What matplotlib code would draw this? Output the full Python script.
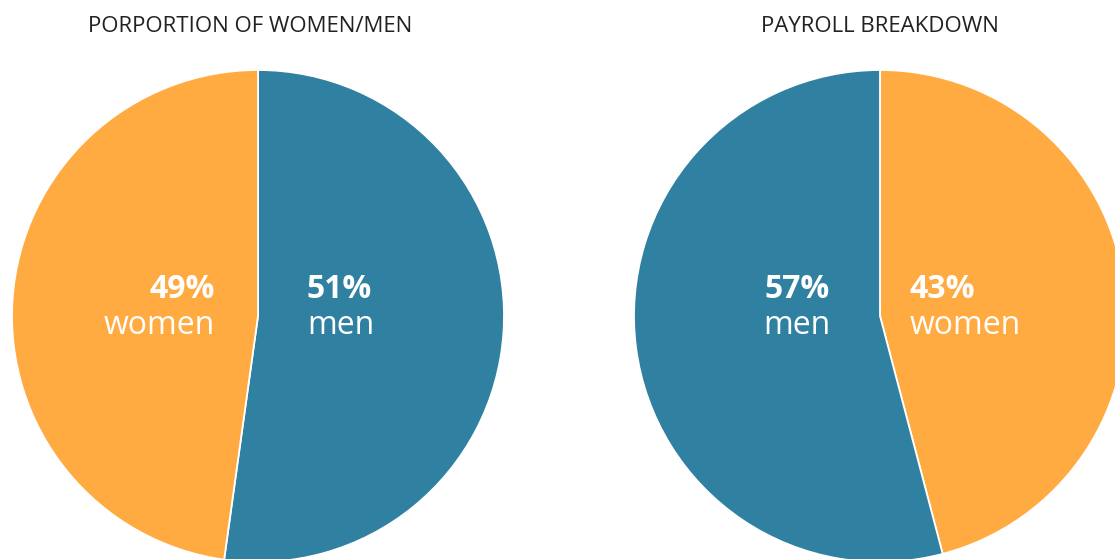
import matplotlib.pyplot as plt

plt.rcParams['font.family'] = ['Open Sans', 'DejaVu Sans']

# wedge shares as drawn in the picture (men, women)
gender_share = [52.2, 47.8]
# payroll drawn clockwise from the top (women, men)
payroll_share = [45.9, 54.1]

gender_labels = ["51%", "49%"]
payroll_labels = ["43%", "57%"]

titles = ["PORPORTION OF WOMEN/MEN", "PAYROLL BREAKDOWN"]

teal = "#2f80a1"
orange = "#ffab41"

W, H = 1115, 559
fig = plt.figure(figsize=(W / 100, H / 100), dpi=100)
ax = fig.add_axes([0, 0, 1, 1])

r = 246
c1 = (258, H - 316)
c2 = (880, H - 316)
wp = dict(edgecolor="white", linewidth=1.3)

ax.pie(gender_share, colors=[teal, orange], startangle=90, counterclock=False,
       center=c1, radius=r, wedgeprops=wp)
ax.pie(payroll_share, colors=[orange, teal], startangle=90, counterclock=False,
       center=c2, radius=r, wedgeprops=wp)

ax.set_xlim(0, W)
ax.set_ylim(0, H)
ax.set_aspect("equal")
ax.axis("off")

# titles
tt = dict(ha="center", va="center", fontsize=16, color="#222222")
ax.text(250, H - 26, titles[0], **tt)
ax.text(880, H - 26, titles[1], **tt)

big = dict(color="white", fontsize=23, va="baseline")
# left pie
ax.text(215, H - 298, gender_labels[1], ha="right", fontweight="bold", **big)
ax.text(215, H - 334, "women", ha="right", **big)
ax.text(306, H - 298, gender_labels[0], ha="left", fontweight="bold", **big)
ax.text(307, H - 334, "men", ha="left", **big)
# right pie
ax.text(830, H - 298, payroll_labels[1], ha="right", fontweight="bold", **big)
ax.text(830, H - 334, "men", ha="right", **big)
ax.text(910, H - 298, payroll_labels[0], ha="left", fontweight="bold", **big)
ax.text(910, H - 334, "women", ha="left", **big)

fig.savefig("out.png", dpi=100)
